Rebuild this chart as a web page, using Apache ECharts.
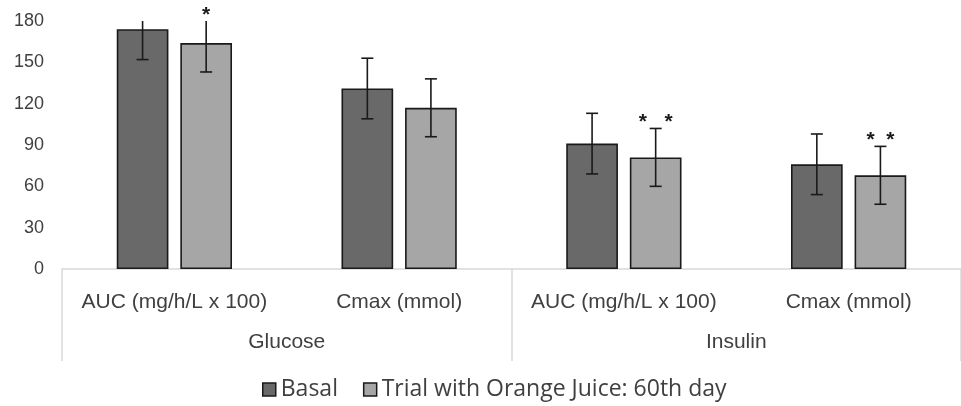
<!DOCTYPE html>
<html><head><meta charset="utf-8">
<script src="https://cdn.jsdelivr.net/npm/echarts@6/dist/echarts.min.js"></script>
<style>html,body{margin:0;padding:0;background:#fff}#c{width:961px;height:406px}</style>
</head><body><div id="c"></div>
<script>
var categories = ['AUC (mg/h/L x 100)', 'Cmax (mmol)', 'AUC (mg/h/L x 100)', 'Cmax (mmol)'];
var groups = ['Glucose', 'Insulin'];
var seriesNames = ['Basal', 'Trial with Orange Juice: 60th day'];
var basal = [174, 131, 91, 76];
var basalErr = [22, 22, 22, 22];
var trial = [164, 117, 81, 68];
var trialErr = [21, 21, 21, 21];
var trialSig = ['*', '', '*   *', '*  *'];
var yTicks = [0, 30, 60, 90, 120, 150, 180];

var FONT = '"Liberation Sans", Arial, sans-serif';
var YMAX = 180;
var chart = echarts.init(document.getElementById('c'));

function errSeries(vals, errs, sig, side) {
  var data = vals.map(function (v, i) { return [i, v, errs[i], sig ? sig[i] : '']; });
  return {
    type: 'custom', xAxisIndex: 0, yAxisIndex: 0, z: 10, silent: true,
    data: data,
    renderItem: function (params, api) {
      var i = api.value(0), v = api.value(1), e = api.value(2);
      var band = api.size([1, 0])[0];
      var bw = band * 0.23, gap = bw * 0.23;
      var off = side * (bw + gap) / 2;
      var c = api.coord([i, v]);
      var x = c[0] + off;
      var topVal = v + e, botVal = v - e;
      var clipped = topVal > YMAX;
      var yt = api.coord([i, Math.min(topVal, YMAX)])[1];
      var yb = api.coord([i, botVal])[1];
      var st = { stroke: '#1a1a1a', lineWidth: 1.6 };
      var ch = [
        { type: 'line', shape: { x1: x, y1: yt, x2: x, y2: yb }, style: st },
        { type: 'line', shape: { x1: x - 6, y1: yb, x2: x + 6, y2: yb }, style: st }
      ];
      if (!clipped) ch.push({ type: 'line', shape: { x1: x - 6, y1: yt, x2: x + 6, y2: yt }, style: st });
      var s = data[params.dataIndex][3];
      if (s) ch.push({ type: 'text', style: { text: s, x: x, y: yt - 6, align: 'center', verticalAlign: 'middle', font: 'bold 21px ' + FONT, fill: '#1a1a1a' } });
      return { type: 'group', children: ch };
    }
  };
}

chart.setOption({
  animation: false,
  grid: { left: 62, top: 21, width: 908, height: 248, containLabel: false },
  legend: {
    top: 373, left: 257, itemWidth: 13, itemHeight: 13, itemGap: 25, icon: 'rect',
    textStyle: { fontFamily: '"Open Sans", ' + FONT, fontSize: 23, color: '#404040', padding: [0, 0, 0, 0] },
    itemStyle: { borderColor: '#1a1a1a', borderWidth: 1.5 },
    data: seriesNames
  },
  xAxis: [
    { type: 'category', data: categories, position: 'bottom',
      axisLine: { lineStyle: { color: '#d9d9d9', width: 1.5 } },
      axisTick: { show: false },
      axisLabel: { interval: 0, fontFamily: FONT, fontSize: 21, color: '#404040', margin: 23 } },
    { type: 'category', data: groups, position: 'bottom', gridIndex: 0,
      axisLine: { show: false },
      axisTick: { show: true, length: 92, lineStyle: { color: '#d9d9d9', width: 1.5 } },
      axisLabel: { interval: 0, fontFamily: FONT, fontSize: 21, color: '#404040', margin: 63 } }
  ],
  yAxis: {
    type: 'value', min: yTicks[0], max: yTicks[yTicks.length - 1], interval: 30,
    axisLine: { show: false }, axisTick: { show: false }, splitLine: { show: false },
    axisLabel: { fontFamily: FONT, fontSize: 18, color: '#404040', margin: 18 }
  },
  series: [
    { name: seriesNames[0], type: 'bar', data: basal, barWidth: '23%', barGap: '23%',
      itemStyle: { color: '#696969', borderColor: '#1a1a1a', borderWidth: 1.6 } },
    { name: seriesNames[1], type: 'bar', data: trial, barWidth: '23%', barGap: '23%',
      itemStyle: { color: '#a6a6a6', borderColor: '#1a1a1a', borderWidth: 1.6 } },
    errSeries(basal, basalErr, null, -1),
    errSeries(trial, trialErr, trialSig, 1)
  ]
});
</script></body></html>
